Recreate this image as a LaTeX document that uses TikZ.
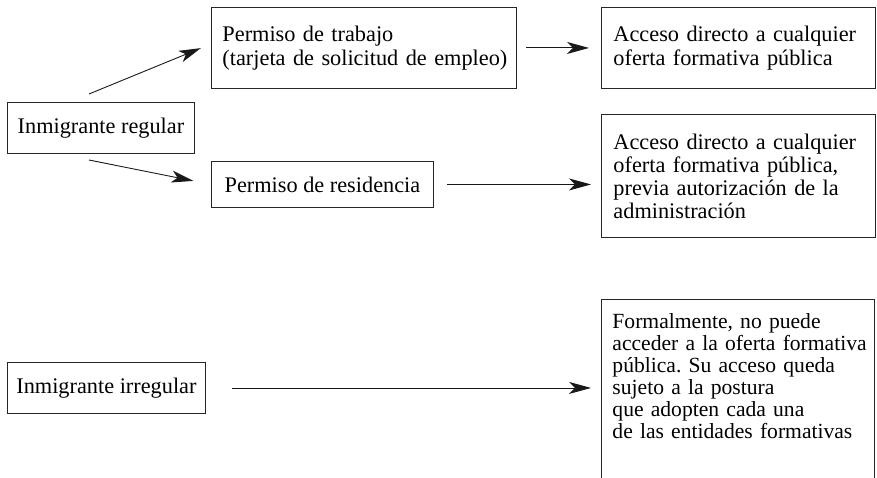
\documentclass[tikz,border=0pt]{standalone}
\usepackage{fontspec}
\setmainfont{Liberation Serif}
\usetikzlibrary{arrows.meta,calc}
\begin{document}
\frenchspacing
\begin{tikzpicture}[x=1pt,y=-1pt,
  box/.style={draw=black!85, line width=0.9pt, inner xsep=11pt, inner ysep=0pt, anchor=north west, font=\fontsize{22.3}{24}\selectfont},
  lbox/.style={box, align=left},
  cbox/.style={box, align=center, inner xsep=4pt},
  arr/.style={line width=0.9pt, draw=black!90, -{Stealth[length=22pt,width=12pt,inset=6pt]}}]
\useasboundingbox (0,0) rectangle (877,478);
\clip (0,0) rectangle (877,478);

\node[cbox, minimum width=187pt, minimum height=51pt] (reg) at (7,102) {Inmigrante regular};
\node[lbox, text width=283pt, minimum height=81pt] (trab) at (211,7) {\mbox{Permiso de trabajo}\\\mbox{(tarjeta de solicitud de empleo)}};
\node[cbox, minimum width=222pt, minimum height=46pt] (res) at (211,161) {Permiso de residencia};
\node[lbox, inner xsep=12pt, text width=250pt, minimum height=81pt] (acc1) at (601,7) {\mbox{Acceso directo a cualquier}\\\mbox{oferta formativa pública}};
\node[lbox, inner xsep=12pt, text width=250pt, minimum height=123pt, font=\fontsize{22.3}{23}\selectfont] (acc2) at (601,114) {\mbox{Acceso directo a cualquier}\\\mbox{oferta formativa pública,}\\\mbox{previa autorización de la}\\\mbox{administración}};
\node[cbox, minimum width=198pt, minimum height=51pt] (irr) at (7,362) {Inmigrante irregular};
\node[lbox, draw=none, inner ysep=14pt, text width=251pt, font=\fontsize{21.6}{22}\selectfont] (irrout) at (601,299) {\mbox{Formalmente, no puede}\\\mbox{acceder a la oferta formativa}\\\mbox{pública. Su acceso queda}\\\mbox{sujeto a la postura}\\\mbox{que adopten cada una}\\\mbox{de las entidades formativas}};
\draw[draw=black!85, line width=0.9pt] ([yshift=-220pt]irrout.north west) -- (irrout.north west) -- (irrout.north east) -- ([yshift=-220pt]irrout.north east);

\coordinate (s1) at (89,94);
\coordinate (s2) at (89,160);
\draw[arr, shorten >=11pt] (s1) -- ($(trab.west)+(0,-4)$);
\draw[arr, shorten >=18pt] (s2) -- (res.west);
\draw[arr, shorten <=9pt, shorten >=12pt] (trab.east) -- (acc1.west);
\draw[arr, shorten <=13pt, shorten >=10pt] (res.east) -- (acc2.west |- res.east);
\draw[arr, shorten <=26pt, shorten >=10pt] (irr.east) -- (irrout.west |- irr.east);
\end{tikzpicture}
\end{document}
